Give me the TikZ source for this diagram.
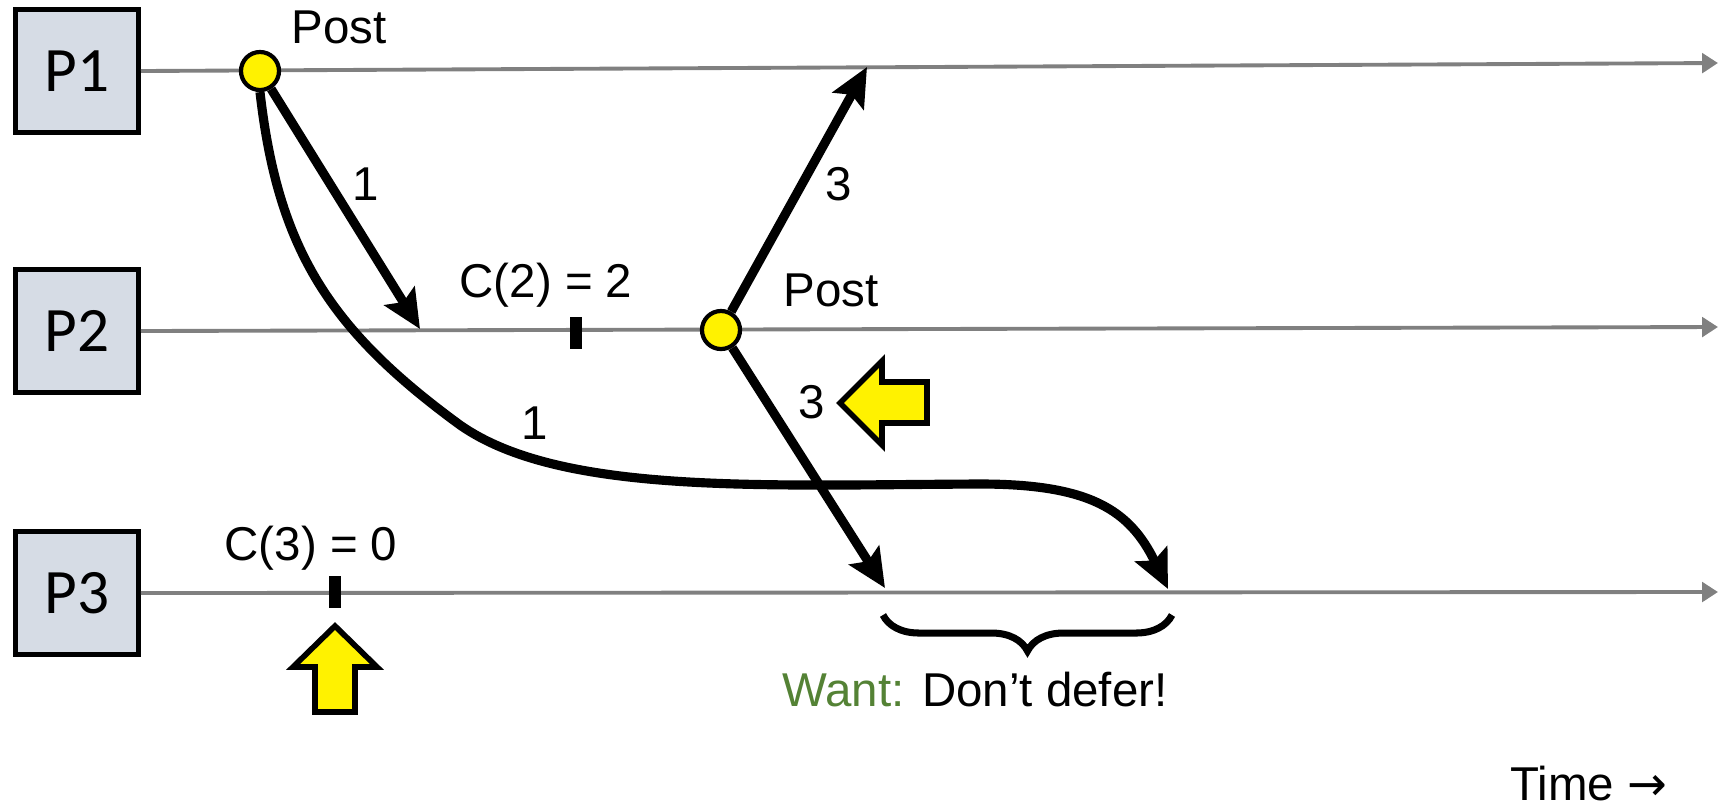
\documentclass[tikz,border=0pt]{standalone}
\usepackage{fontspec}
\setmainfont{Liberation Sans}
\newfontfamily\boxfont{Carlito}
\newfontfamily\arrowfont{DejaVu Sans}
\usetikzlibrary{arrows.meta,decorations.pathreplacing}
\definecolor{boxblue}{HTML}{D6DCE5}
\definecolor{wantgreen}{HTML}{548235}
\begin{document}
\begin{tikzpicture}[x=0.01cm, y=-0.01cm,
    procbox/.style={draw, line width=1.4pt, fill=boxblue, minimum size=1.23cm, inner sep=0pt, font=\boxfont\fontsize{18}{20}\selectfont},
    postdot/.style={draw, circle, line width=1.2pt, fill=yellow, minimum size=0.38cm, inner sep=0pt},
    tick/.style={fill=black, rectangle, minimum width=0.12cm, minimum height=0.32cm, inner sep=0pt},
    timeline/.style={draw=gray, line width=1.1pt, -{Triangle[length=4.5pt,width=5.5pt]}},
    msg/.style={line width=2.6pt, -{Stealth[length=11pt,width=10pt,inset=2pt]}},
    hint/.style={draw, line width=1.6pt, fill=yellow, line join=miter},
    lbl/.style={inner sep=0pt, font=\fontsize{13.5}{15}\selectfont}]
    \useasboundingbox (0,0) rectangle (1720,808);

    % Processes
    \node[procbox] (p1) at (77,71) {P1};
    \node[procbox] (p2) at (77,331) {P2};
    \node[procbox] (p3) at (77,593) {P3};

    % Timelines
    \coordinate (e1) at (1718,63);
    \coordinate (e2) at (1718,327);
    \coordinate (e3) at (1718,592);
    \draw[timeline] (p1.east) -- (e1);
    \draw[timeline] (p2.east) -- (e2);
    \draw[timeline] (p3.east) -- (e3);

    % Clock ticks
    \node[tick] (t2) at (576,333) {};
    \node[tick] (t3) at (335,592) {};
    \node[lbl] (c2) at (546,285) {C(2) = 2};
    \node[lbl] (c3) at (311,548) {C(3) = 0};

    % Posts
    \node[postdot] (post1) at (260,71) {};
    \node[postdot] (post2) at (721,330) {};
    \node[lbl] (lpost1) at (339,27) {Post};
    \node[lbl] (lpost2) at (831,290) {Post};

    % Messages
    \coordinate (r2a) at (420,329);
    \coordinate (r1) at (867,67);
    \coordinate (r3a) at (885,588);
    \coordinate (r3b) at (1168,589);
    \draw[msg] (post1) -- (r2a);
    \draw[msg] (post1.south) .. controls (278,250) and (330,330) .. (460,425)
        .. controls (560,495) and (760,485) .. (980,484)
        .. controls (1090,484) and (1130,510) .. (r3b);
    \draw[msg] (post2) -- (r1);
    \draw[msg] (post2) -- (r3a);
    \node[lbl] (n1a) at (366,184) {1};
    \node[lbl] (n1b) at (535,423) {1};
    \node[lbl] (n3a) at (839,184) {3};
    \node[lbl] (n3b) at (812,402) {3};

    % Pointers
    \draw[hint] (335,626) -- (377,667) -- (355,667) -- (355,712) -- (315,712) -- (315,667) -- (293,667) -- cycle;
    \draw[hint] (840,403) -- (882,361) -- (882,382) -- (927,382) -- (927,423) -- (882,423) -- (882,445) -- cycle;

    % Gap on P3
    \coordinate (b1) at (883,615);
    \coordinate (b2) at (1172,615);
    \draw[line width=2pt, decorate, decoration={brace, mirror, amplitude=0.36cm}] (b1) -- (b2);
    \node[lbl] (want) at (975,690) {\textcolor{wantgreen}{Want:} Don’t defer!};

    \node[lbl] (time) at (1589,784) {Time {\arrowfont →}};
\end{tikzpicture}
\end{document}
